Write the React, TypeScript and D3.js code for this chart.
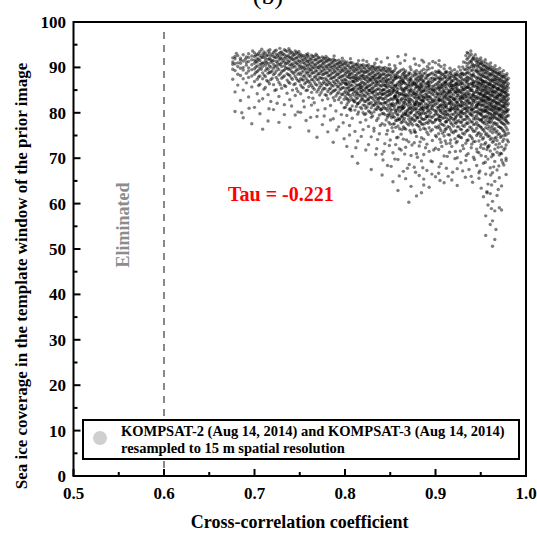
import React from 'react';
import * as d3 from 'd3';

const W = 537;
const H = 535;

const xMajorTicks = [0.5, 0.6, 0.7, 0.8, 0.9, 1.0];
const xMinorTicks = [0.55, 0.65, 0.75, 0.85, 0.95];
const yMajorTicks = [0, 10, 20, 30, 40, 50, 60, 70, 80, 90, 100];
const yMinorTicks = [5, 15, 25, 35, 45, 55, 65, 75, 85, 95];

const eliminatedThreshold = 0.6;
const tauText = 'Tau = -0.221';
const legendLine1 = 'KOMPSAT-2 (Aug 14, 2014) and KOMPSAT-3 (Aug 14, 2014)';
const legendLine2 = 'resampled to 15 m spatial resolution';
const xTitle = 'Cross-correlation coefficient';
const yTitle = 'Sea ice coverage in the template window of the prior image';

// scatter columns: [cross-correlation, [sea ice coverage values]]
const colsA: [number, number[]][] = [
  [0.676, [92.1, 91.2, 90.7, 89.6, 87.4]],
  [0.6785, [92.4, 91.9, 90.8, 89.3, 84.6, 80.3]],
  [0.6815, [92.6, 91.0, 90.2, 88.5, 86.1]],
  [0.6845, [92.0, 91.6, 90.9, 89.8, 88.2, 82.7]],
  [0.6875, [92.8, 91.4, 90.0, 89.4, 87.5, 85.0, 78.9]],
  [0.691, [92.3, 91.1, 90.5, 88.7, 86.6]],
  [0.6935, [93.0, 92.2, 91.3, 89.9, 89.2, 87.8, 83.5]],
  [0.697, [92.5, 91.7, 90.6, 89.5, 88.1, 85.7, 77.6]],
];

const colsB: [number, number[]][] = [
  [0.7, [93.2, 92.4, 91.6, 90.9, 89.7, 88.5, 86.9, 81.2]],
  [0.703, [92.8, 91.9, 91.2, 90.3, 89.1, 87.4, 84.2]],
  [0.706, [93.5, 92.6, 91.5, 90.6, 89.9, 88.1, 86.3, 79.8]],
  [0.709, [92.9, 92.2, 91.0, 90.2, 88.8, 87.5, 83.1, 76.4]],
  [0.712, [93.1, 92.0, 91.4, 90.5, 89.3, 88.0, 85.6]],
  [0.715, [93.6, 92.7, 91.8, 90.8, 89.6, 88.7, 86.9, 84.0, 78.2]],
  [0.718, [92.5, 91.7, 91.1, 90.1, 89.0, 87.3, 82.5]],
  [0.721, [93.3, 92.4, 91.5, 90.7, 89.8, 88.4, 86.2, 80.7]],
  [0.724, [93.8, 92.9, 92.1, 91.3, 90.4, 89.2, 87.8, 85.1]],
  [0.727, [93.0, 92.3, 91.6, 90.6, 89.5, 88.3, 86.7, 83.6, 77.9]],
  [0.73, [93.4, 92.7, 91.9, 91.0, 90.2, 89.0, 87.6, 85.4]],
  [0.733, [93.9, 92.8, 92.0, 91.2, 90.3, 89.4, 88.1, 86.0, 81.8]],
  [0.736, [93.5, 92.6, 91.7, 90.9, 89.9, 88.6, 87.2, 84.3]],
  [0.739, [93.7, 93.0, 92.2, 91.4, 90.5, 89.7, 88.2, 86.5, 82.9, 76.8]],
  [0.742, [93.2, 92.5, 91.8, 90.8, 90.0, 88.9, 87.4, 85.0]],
  [0.745, [93.6, 92.9, 92.0, 91.1, 90.1, 89.1, 88.0, 86.4, 83.8, 79.5]],
  [0.748, [93.1, 92.3, 91.5, 90.7, 89.6, 88.5, 87.1, 84.7]],
];

const colsC: [number, number[]][] = [
  [0.751, [92.9, 92.2, 91.1, 90.4, 89.7, 88.4, 87.5, 86.1, 84.2, 80.1]],
  [0.754, [92.6, 91.7, 91.0, 90.1, 89.3, 88.0, 87.2, 85.5, 82.6]],
  [0.757, [92.8, 92.0, 91.5, 90.5, 89.6, 88.9, 87.6, 86.7, 84.9, 78.3]],
  [0.76, [92.3, 91.4, 90.8, 89.8, 89.1, 88.2, 86.9, 85.8, 83.4, 76.0]],
  [0.763, [92.7, 91.9, 91.2, 90.2, 89.4, 88.6, 87.3, 86.0, 84.5, 81.7]],
  [0.766, [92.4, 91.6, 90.6, 89.9, 88.8, 87.9, 86.8, 85.2, 82.2]],
  [0.769, [92.6, 91.8, 90.9, 90.0, 89.2, 88.3, 87.4, 86.1, 84.6, 79.2, 74.6]],
  [0.772, [92.1, 91.3, 90.4, 89.7, 88.6, 87.8, 86.6, 85.6, 83.9]],
  [0.775, [92.3, 91.5, 90.8, 90.1, 89.2, 88.4, 87.6, 86.4, 85.0, 82.8, 77.4]],
  [0.778, [91.9, 91.2, 90.3, 89.4, 88.7, 87.6, 86.5, 85.3, 84.0, 80.9]],
  [0.781, [92.0, 91.4, 90.5, 89.8, 88.9, 88.1, 87.0, 86.2, 84.7, 83.1, 75.8]],
  [0.784, [91.7, 90.8, 90.1, 89.3, 88.3, 87.5, 86.4, 85.4, 84.2, 81.6]],
  [0.787, [91.8, 91.1, 90.4, 89.6, 88.8, 87.8, 86.9, 85.9, 84.8, 83.3, 78.7, 73.5]],
  [0.79, [91.5, 90.7, 89.9, 89.0, 88.2, 87.2, 86.3, 85.1, 83.7, 80.4]],
  [0.793, [91.6, 90.9, 90.2, 89.4, 88.5, 87.7, 86.7, 85.7, 84.5, 82.9, 76.9]],
  [0.796, [91.3, 90.6, 89.7, 89.1, 88.0, 87.2, 86.4, 85.3, 84.1, 82.2, 79.6]],
  [0.799, [91.4, 90.8, 90.0, 89.2, 88.3, 87.4, 86.6, 85.5, 84.4, 83.0, 81.1, 74.3]],
];

const colsD: [number, number[]][] = [
  [0.802, [91.2, 90.4, 89.5, 88.9, 88.0, 87.0, 86.2, 85.4, 84.3, 83.1, 81.8, 79.4, 72.6]],
  [0.805, [90.9, 90.0, 89.3, 88.4, 87.7, 86.8, 85.8, 85.0, 83.9, 82.7, 80.8, 77.2]],
  [0.808, [91.0, 90.3, 89.6, 88.6, 87.9, 86.9, 86.0, 85.1, 84.0, 82.9, 81.5, 78.8, 70.4]],
  [0.811, [90.7, 89.8, 89.1, 88.2, 87.5, 86.6, 85.6, 84.8, 83.7, 82.4, 80.6, 75.9]],
  [0.814, [90.8, 90.2, 89.4, 88.7, 87.8, 87.1, 86.1, 85.2, 84.3, 83.3, 82.0, 79.7, 73.8, 68.9]],
  [0.817, [90.5, 89.7, 89.0, 88.1, 87.4, 86.4, 85.6, 84.7, 83.8, 82.6, 81.2, 77.9]],
  [0.82, [91.6, 90.6, 89.9, 89.1, 88.4, 87.6, 86.7, 85.9, 84.9, 84.0, 82.9, 81.7, 80.0, 76.3]],
  [0.823, [90.4, 89.5, 88.9, 88.0, 87.3, 86.3, 85.5, 84.6, 83.6, 82.5, 81.0, 78.4, 71.8]],
  [0.826, [90.6, 89.9, 89.2, 88.4, 87.6, 86.8, 85.9, 85.0, 84.1, 83.1, 82.0, 80.4, 77.0]],
  [0.829, [90.2, 89.5, 88.7, 87.9, 87.1, 86.2, 85.3, 84.4, 83.4, 82.3, 81.1, 79.0, 74.7, 67.5]],
  [0.832, [90.3, 89.7, 89.0, 88.2, 87.4, 86.6, 85.7, 84.8, 83.9, 82.8, 81.6, 80.2, 76.6]],
  [0.835, [91.8, 90.0, 89.3, 88.5, 87.7, 86.9, 86.0, 85.1, 84.2, 83.2, 82.1, 80.7, 78.3, 72.1]],
  [0.838, [90.1, 89.4, 88.6, 87.8, 87.0, 86.1, 85.2, 84.3, 83.3, 82.2, 81.0, 79.5, 75.4]],
  [0.841, [89.9, 89.2, 88.4, 87.6, 86.8, 85.9, 85.0, 84.1, 83.1, 82.0, 80.9, 79.8, 77.6, 70.9, 66.3]],
  [0.844, [90.0, 89.3, 88.5, 87.7, 86.9, 86.0, 85.1, 84.2, 83.2, 82.1, 81.0, 79.6, 77.3, 73.2]],
  [0.847, [92.1, 89.8, 89.0, 88.2, 87.4, 86.5, 85.6, 84.7, 83.8, 82.8, 81.7, 80.5, 79.0, 76.1, 68.4]],
  [0.85, [89.7, 89.1, 88.3, 87.5, 86.7, 85.8, 84.9, 84.0, 83.0, 81.9, 80.8, 79.4, 77.5, 74.0]],
];

const colsE: [number, number[]][] = [
  [0.853, [89.1, 88.6, 87.2, 86.9, 85.4, 84.8, 84.5, 82.9, 82.1, 81.6, 79.8, 79.2, 77.5, 75.9, 71.2, 64.8]],
  [0.856, [89.8, 88.3, 87.6, 86.1, 85.9, 84.0, 83.7, 83.2, 81.9, 80.4, 80.1, 78.3, 76.8, 73.0]],
  [0.8585, [92.4, 88.9, 88.0, 86.6, 85.2, 84.4, 83.5, 82.6, 82.4, 80.9, 79.5, 78.7, 77.1, 74.6, 69.7, 62.9]],
  [0.862, [89.4, 87.9, 87.4, 86.3, 85.6, 84.2, 83.0, 82.7, 81.3, 80.6, 79.0, 77.8, 75.3, 71.8]],
  [0.8645, [89.6, 88.7, 87.0, 86.8, 85.1, 84.6, 83.9, 82.3, 81.8, 81.1, 79.9, 78.4, 76.9, 74.2, 67.1]],
  [0.867, [92.8, 89.2, 88.2, 87.7, 86.4, 85.5, 84.1, 83.6, 82.8, 82.0, 80.3, 79.7, 78.0, 76.4, 72.4, 65.5]],
  [0.8705, [88.8, 88.4, 86.9, 86.2, 85.8, 84.7, 83.3, 82.5, 81.4, 80.8, 79.3, 78.6, 77.3, 73.6, 60.3]],
  [0.873, [89.5, 87.8, 87.3, 86.0, 85.3, 84.9, 83.8, 82.9, 81.7, 81.0, 80.0, 78.9, 77.7, 75.6, 70.6, 63.8]],
  [0.8765, [91.9, 89.0, 88.1, 86.7, 86.4, 85.0, 84.3, 83.4, 82.2, 81.5, 80.7, 79.4, 78.2, 76.2, 73.4, 68.0]],
  [0.879, [89.3, 88.5, 87.5, 86.6, 85.7, 84.4, 84.0, 82.7, 82.4, 80.9, 80.2, 79.1, 77.4, 74.8, 71.0, 61.7]],
  [0.882, [90.4, 88.9, 87.9, 87.1, 85.9, 85.2, 83.9, 83.3, 82.0, 81.6, 80.5, 79.6, 78.1, 76.9, 72.7, 66.2]],
  [0.8845, [89.2, 88.0, 87.4, 86.3, 85.5, 84.6, 83.6, 82.8, 81.9, 81.2, 79.8, 78.8, 77.6, 74.5, 69.4, 62.4]],
  [0.887, [91.2, 89.6, 88.6, 87.2, 86.8, 85.1, 84.8, 83.2, 82.6, 81.4, 80.6, 79.9, 78.5, 76.6, 74.2, 70.8, 64.1]],
  [0.8905, [89.4, 88.2, 87.6, 86.5, 85.6, 84.2, 83.7, 83.0, 81.8, 81.1, 80.1, 79.2, 77.9, 75.7, 73.1, 67.3]],
  [0.893, [90.8, 89.7, 88.4, 87.0, 86.1, 85.4, 84.5, 83.5, 82.3, 81.7, 80.4, 79.5, 78.3, 76.7, 71.5, 63.6]],
  [0.8965, [89.9, 88.8, 87.7, 86.9, 85.8, 85.0, 84.1, 82.9, 82.5, 81.3, 80.8, 79.0, 77.8, 76.3, 73.9, 69.2]],
  [0.9, [91.0, 89.1, 88.3, 87.4, 86.2, 85.3, 84.7, 83.4, 82.7, 81.9, 80.3, 79.7, 78.4, 76.9, 75.0, 72.2, 65.9]],
];

const colsF: [number, number[]][] = [
  [0.9035, [90.6, 89.3, 88.9, 87.6, 86.8, 85.7, 85.2, 84.1, 83.0, 82.6, 81.3, 80.9, 79.4, 78.8, 77.1, 75.4, 71.9, 66.7]],
  [0.906, [90.2, 88.7, 88.1, 87.4, 86.2, 85.6, 84.3, 83.9, 82.8, 81.8, 81.4, 80.1, 79.2, 77.6, 76.1, 73.5, 68.8]],
  [0.9095, [89.7, 88.4, 87.8, 86.7, 86.1, 85.0, 84.6, 83.3, 82.5, 81.9, 80.5, 79.7, 78.9, 77.2, 74.9, 70.5, 64.6]],
  [0.912, [89.1, 88.9, 87.7, 87.0, 86.4, 85.4, 84.0, 83.5, 83.1, 81.6, 81.2, 80.3, 78.9, 78.1, 76.5, 73.2, 67.8]],
  [0.9155, [88.9, 87.9, 87.5, 86.5, 85.9, 84.9, 84.6, 83.7, 82.7, 82.1, 80.7, 80.4, 79.3, 78.4, 76.8, 75.1, 71.3]],
  [0.918, [89.2, 88.3, 87.1, 86.9, 86.0, 85.2, 84.2, 83.4, 82.3, 81.7, 81.0, 79.7, 78.8, 77.5, 75.8, 72.6, 65.2]],
  [0.9215, [88.6, 88.1, 87.6, 86.3, 85.8, 84.7, 84.4, 83.0, 82.8, 81.5, 80.6, 80.0, 78.6, 77.8, 76.0, 74.3, 69.9]],
  [0.924, [89.0, 88.4, 87.3, 86.6, 86.0, 85.3, 84.8, 83.8, 82.4, 82.2, 81.0, 80.8, 79.5, 78.1, 76.9, 73.7, 70.1, 64.0]],
  [0.9275, [89.4, 88.5, 87.9, 86.9, 86.3, 85.0, 84.5, 83.4, 83.1, 81.8, 81.4, 80.2, 79.1, 77.9, 76.4, 74.6, 71.6]],
  [0.93, [90.1, 88.7, 88.3, 87.2, 86.5, 85.5, 85.0, 83.9, 83.3, 82.2, 81.6, 80.7, 79.8, 78.4, 77.2, 75.5, 72.8, 67.2]],
  [0.9335, [92.6, 91.0, 89.5, 88.6, 87.5, 86.9, 85.7, 85.4, 84.1, 83.6, 82.5, 81.8, 80.8, 80.0, 78.6, 77.5, 75.8, 73.3, 69.5]],
  [0.936, [93.1, 92.1, 90.8, 89.7, 89.0, 87.8, 87.2, 86.2, 85.6, 84.3, 83.9, 82.8, 82.1, 81.1, 80.3, 78.9, 77.7, 76.2, 74.0, 71.0]],
  [0.9395, [92.9, 91.5, 91.2, 90.2, 89.3, 88.2, 87.6, 86.5, 85.3, 84.9, 83.5, 83.2, 82.1, 81.4, 80.5, 79.5, 78.0, 76.7, 74.7, 72.3, 66.0]],
  [0.942, [92.3, 91.9, 90.5, 90.0, 88.6, 88.1, 86.9, 86.5, 85.8, 84.4, 84.0, 82.7, 82.2, 80.9, 80.1, 78.7, 77.4, 75.9, 73.6, 70.2]],
  [0.9455, [92.0, 91.2, 90.6, 89.5, 89.1, 87.6, 87.0, 86.0, 85.1, 84.7, 83.6, 83.1, 81.8, 81.6, 80.3, 79.4, 77.9, 76.6, 75.0, 72.0, 68.4]],
  [0.948, [91.7, 90.8, 90.3, 89.2, 88.5, 87.5, 86.8, 85.8, 85.1, 84.2, 83.4, 82.4, 81.9, 80.6, 79.9, 78.5, 77.2, 75.6, 73.8, 71.2, 65.6]],
  [0.9505, [91.5, 90.9, 89.7, 89.2, 88.0, 87.3, 86.4, 85.7, 84.6, 84.2, 83.1, 82.5, 81.5, 80.6, 79.5, 78.5, 76.8, 75.3, 73.0, 70.6, 63.4]],
];

const colsG: [number, number[]][] = [
  [0.953, [91.2, 90.3, 89.6, 88.7, 88.0, 86.9, 86.4, 85.4, 85.0, 83.9, 83.5, 82.5, 81.8, 80.8, 80.2, 78.9, 77.9, 76.2, 74.5, 72.1, 68.9, 61.5]],
  [0.9555, [91.0, 90.2, 89.5, 88.7, 87.7, 86.9, 85.9, 85.3, 84.3, 83.7, 82.8, 82.1, 81.2, 80.6, 79.3, 78.3, 76.7, 75.2, 73.4, 70.4, 66.5, 57.3, 53.0]],
  [0.958, [90.7, 89.8, 89.3, 88.2, 87.5, 86.5, 85.9, 84.8, 84.3, 83.4, 82.8, 81.7, 81.2, 80.1, 79.3, 77.9, 76.5, 74.8, 72.6, 69.8, 64.3, 59.7]],
  [0.9605, [90.3, 89.6, 88.6, 88.1, 87.0, 86.5, 85.5, 84.7, 83.8, 83.2, 82.2, 81.6, 80.7, 79.9, 78.8, 77.8, 76.0, 74.1, 71.6, 67.9, 62.2, 55.4]],
  [0.963, [90.0, 89.2, 88.6, 87.5, 87.0, 86.0, 85.4, 84.4, 83.8, 82.7, 82.2, 81.1, 80.5, 79.4, 78.7, 77.1, 75.6, 73.5, 70.9, 66.8, 60.5, 56.2, 50.6]],
  [0.9655, [89.7, 89.0, 88.1, 87.4, 86.4, 85.8, 84.7, 84.2, 83.2, 82.6, 81.6, 81.0, 79.9, 79.2, 77.8, 76.5, 74.4, 72.0, 69.3, 64.9, 58.4, 52.1]],
  [0.968, [89.5, 88.7, 88.0, 87.1, 86.3, 85.3, 84.8, 83.7, 83.1, 82.1, 81.5, 80.5, 79.8, 78.7, 77.6, 76.0, 73.9, 71.3, 67.4, 61.8]],
  [0.9705, [89.0, 88.5, 87.5, 86.9, 85.9, 85.2, 84.2, 83.7, 82.5, 82.0, 81.0, 80.4, 79.2, 78.4, 76.9, 75.4, 73.2, 70.7, 65.7, 59.1]],
  [0.973, [88.9, 88.0, 87.4, 86.5, 85.8, 84.8, 84.2, 83.1, 82.5, 81.5, 80.9, 79.8, 79.1, 77.8, 76.6, 74.9, 72.5, 69.6, 63.9, 58.6]],
  [0.9755, [88.4, 87.9, 86.9, 86.4, 85.3, 84.7, 83.7, 83.1, 82.0, 81.4, 80.4, 79.7, 78.5, 77.5, 76.0, 74.2, 71.8, 68.5]],
  [0.978, [88.2, 87.3, 86.8, 85.8, 85.2, 84.2, 83.6, 82.6, 82.0, 80.9, 80.3, 79.1, 78.2, 76.8, 75.1, 72.9, 70.0, 66.4]],
  [0.9805, [87.6, 86.4, 85.5, 84.0, 83.1, 82.0, 80.7, 79.4, 77.7, 75.5, 73.6]],
];

// additional points read from the denser parts of the cloud
const denseBC: [number, number[]][] = [
  [0.7015, [92.7, 91.3, 90.1, 88.9]],
  [0.7045, [93.1, 91.8, 89.4, 87.9, 86.0]],
  [0.7075, [92.2, 90.8, 89.6]],
  [0.7105, [93.4, 92.5, 90.9, 88.3, 85.2]],
  [0.7135, [92.6, 91.1, 89.8, 87.1]],
  [0.7165, [93.2, 91.9, 90.3, 88.9, 86.4]],
  [0.7195, [92.9, 91.4, 89.2, 87.6]],
  [0.7225, [93.6, 92.2, 90.2, 88.7, 84.9]],
  [0.7255, [92.6, 91.0, 89.9, 87.3]],
  [0.7285, [93.3, 92.0, 90.7, 88.6, 86.2]],
  [0.7315, [93.0, 91.5, 89.3, 87.9]],
  [0.7345, [93.7, 92.3, 90.8, 89.8, 85.8]],
  [0.7375, [92.4, 91.2, 89.6, 88.4, 86.8]],
  [0.7405, [93.4, 92.0, 90.6, 89.2, 87.7]],
  [0.7435, [92.8, 91.6, 90.4, 88.6, 86.2]],
  [0.7465, [93.3, 92.1, 90.9, 89.4, 87.5, 85.3]],
  [0.7495, [92.7, 91.4, 90.2, 88.8, 86.9]],
  [0.7525, [92.5, 91.6, 90.0, 88.9, 87.3, 85.7]],
  [0.7555, [92.2, 90.9, 89.8, 88.2, 86.4]],
  [0.7585, [92.6, 91.3, 90.3, 88.7, 87.1, 85.0]],
  [0.7615, [91.8, 90.6, 89.5, 88.0, 86.5]],
  [0.7645, [92.4, 91.0, 89.9, 88.9, 87.3, 85.6, 83.2]],
  [0.7675, [91.7, 90.5, 89.3, 87.9, 86.3]],
  [0.7705, [92.2, 91.1, 90.0, 88.6, 87.2, 85.1]],
  [0.7735, [91.5, 90.3, 89.1, 87.6, 86.0, 84.4]],
  [0.7765, [92.0, 90.9, 89.7, 88.5, 86.9, 85.4]],
  [0.7795, [91.4, 90.1, 88.8, 87.3, 86.1, 83.8]],
  [0.7825, [91.7, 90.6, 89.4, 88.2, 86.7, 85.2]],
  [0.7855, [91.2, 90.0, 88.7, 87.6, 86.0, 84.5]],
  [0.7885, [91.6, 90.3, 89.2, 87.9, 86.6, 84.9, 82.7]],
  [0.7915, [90.8, 89.7, 88.5, 87.1, 85.8, 84.2]],
  [0.7945, [91.1, 90.2, 88.9, 87.8, 86.2, 85.1, 83.4]],
  [0.7975, [90.6, 89.4, 88.1, 86.9, 85.6, 84.0]],
];

const denseD: [number, number[]][] = [
  [0.8005, [90.9, 89.8, 88.6, 87.3, 86.5, 84.8, 83.6, 81.2]],
  [0.8035, [90.4, 89.0, 87.9, 86.4, 85.5, 84.1, 82.3]],
  [0.8065, [91.1, 89.9, 88.8, 87.6, 86.2, 85.0, 83.4, 80.5]],
  [0.8095, [90.2, 89.2, 87.8, 86.9, 85.3, 84.4, 82.8]],
  [0.8125, [90.6, 89.6, 88.3, 87.1, 86.0, 84.6, 83.1, 81.4]],
  [0.8155, [90.0, 88.8, 87.6, 86.2, 85.4, 83.9, 82.2]],
  [0.8185, [90.4, 89.3, 88.1, 86.8, 85.6, 84.5, 83.0, 80.9]],
  [0.8215, [89.9, 88.9, 87.5, 86.4, 85.1, 83.8, 82.5, 79.6]],
  [0.8245, [90.3, 89.1, 87.9, 86.9, 85.7, 84.3, 82.9, 81.3]],
  [0.8275, [89.7, 88.5, 87.3, 86.0, 84.9, 83.5, 82.0, 80.2]],
  [0.8305, [90.1, 89.0, 87.8, 86.6, 85.4, 84.4, 83.2, 81.7, 79.3]],
  [0.8335, [89.6, 88.3, 87.2, 86.1, 84.8, 83.6, 82.4, 80.8]],
  [0.8365, [89.9, 88.8, 87.6, 86.5, 85.3, 84.0, 82.7, 81.5, 78.8]],
  [0.8395, [89.4, 88.2, 87.0, 85.9, 84.6, 83.4, 82.0, 80.6]],
  [0.8425, [89.7, 88.6, 87.4, 86.3, 85.1, 84.2, 83.0, 81.4, 79.9]],
  [0.8455, [89.2, 88.0, 86.8, 85.7, 84.5, 83.6, 82.3, 80.9, 78.4]],
  [0.8485, [89.5, 88.4, 87.2, 86.1, 84.9, 83.9, 82.6, 81.2, 79.7, 77.9]],
  [0.8515, [89.0, 87.9, 86.6, 85.5, 84.3, 83.1, 81.9, 80.6, 78.9]],
];

const denseE: [number, number[]][] = [
  [0.8545, [89.3, 88.0, 87.4, 85.8, 85.1, 83.6, 83.3, 81.4, 80.8, 79.0, 77.6]],
  [0.8575, [88.6, 87.7, 86.2, 85.5, 84.5, 82.9, 82.2, 80.6, 79.7, 78.3]],
  [0.8603, [89.1, 87.8, 86.8, 86.0, 84.2, 83.9, 82.1, 81.2, 80.3, 78.5, 76.5]],
  [0.8633, [88.4, 87.1, 86.5, 85.0, 84.1, 83.2, 81.5, 80.9, 79.2, 78.0]],
  [0.8658, [88.9, 88.1, 86.6, 85.3, 84.8, 83.1, 82.4, 81.3, 79.6, 78.8, 76.6]],
  [0.8688, [88.1, 87.4, 86.1, 85.2, 83.7, 82.9, 81.8, 80.2, 79.4, 77.6]],
  [0.8718, [88.7, 87.5, 86.6, 85.0, 84.4, 83.0, 82.1, 81.0, 79.9, 78.1, 76.1]],
  [0.8748, [88.3, 86.8, 86.1, 84.6, 83.9, 82.6, 81.2, 80.5, 78.7, 77.3]],
  [0.8778, [88.6, 87.3, 86.2, 85.5, 84.0, 83.3, 81.8, 80.9, 79.6, 78.4, 75.7]],
  [0.8805, [87.9, 87.0, 85.7, 84.8, 83.5, 82.2, 81.5, 80.0, 78.9, 77.2]],
  [0.8833, [88.5, 87.5, 86.4, 85.0, 84.3, 82.9, 82.1, 80.8, 79.3, 78.0, 76.3]],
  [0.8858, [88.1, 86.9, 85.9, 84.7, 83.8, 82.5, 81.0, 80.4, 78.6, 77.4]],
  [0.8888, [88.8, 87.7, 86.3, 85.6, 84.1, 83.4, 82.0, 81.1, 79.8, 78.7, 76.4]],
  [0.8918, [88.2, 86.8, 86.0, 84.9, 83.6, 82.8, 81.5, 80.5, 79.1, 77.7]],
  [0.8948, [88.6, 87.5, 86.6, 85.2, 84.4, 83.1, 82.2, 80.9, 80.0, 78.2, 76.0]],
  [0.8983, [88.4, 87.2, 85.9, 85.0, 83.9, 82.8, 81.6, 80.6, 79.4, 77.9]],
  [0.9018, [88.9, 87.9, 86.5, 85.5, 84.3, 83.5, 82.1, 81.2, 79.8, 78.6, 76.7]],
];

const denseF: [number, number[]][] = [
  [0.9048, [89.0, 87.6, 86.9, 85.4, 84.8, 83.4, 82.7, 81.6, 80.5, 79.2, 78.3, 76.6, 74.2]],
  [0.9078, [88.5, 87.4, 86.3, 85.5, 84.2, 83.0, 82.4, 81.0, 79.9, 78.8, 77.4, 75.5]],
  [0.9108, [88.9, 88.0, 86.6, 85.8, 84.5, 83.8, 82.2, 81.5, 80.2, 79.5, 78.0, 76.4, 73.8]],
  [0.9138, [88.3, 87.3, 86.1, 85.0, 84.3, 82.9, 82.0, 80.8, 79.7, 78.5, 77.0, 75.2]],
  [0.9168, [88.6, 87.8, 86.5, 85.6, 84.7, 83.5, 82.6, 81.3, 80.5, 79.0, 77.8, 76.3, 74.0]],
  [0.9198, [88.0, 87.1, 86.0, 85.1, 83.9, 83.1, 81.9, 80.9, 79.6, 78.4, 77.1, 75.6]],
  [0.9228, [88.4, 87.5, 86.6, 85.4, 84.6, 83.4, 82.3, 81.6, 80.2, 79.2, 77.7, 76.0, 73.4]],
  [0.9258, [88.1, 87.0, 86.2, 85.0, 83.8, 83.0, 81.8, 80.6, 79.8, 78.3, 76.9, 75.0]],
  [0.9288, [88.7, 87.6, 86.5, 85.7, 84.4, 83.6, 82.4, 81.5, 80.3, 79.1, 77.9, 76.3, 74.5]],
  [0.9318, [89.6, 88.4, 87.3, 86.1, 85.2, 84.3, 83.1, 82.0, 81.0, 79.8, 78.5, 77.0, 75.3]],
  [0.9348, [91.8, 90.2, 88.8, 87.9, 86.6, 85.6, 84.7, 83.4, 82.7, 81.4, 80.5, 79.2, 77.8, 76.1, 73.9]],
  [0.9378, [92.5, 91.2, 89.9, 88.6, 87.5, 86.3, 85.4, 84.1, 83.3, 82.1, 81.0, 79.8, 78.4, 76.9, 75.0]],
  [0.9408, [91.9, 90.7, 89.4, 88.3, 87.2, 86.0, 84.9, 83.9, 82.8, 81.7, 80.8, 79.4, 78.0, 76.3, 74.3]],
  [0.9438, [91.6, 90.3, 89.3, 88.0, 86.8, 85.9, 84.5, 83.6, 82.5, 81.3, 80.2, 79.1, 77.5, 76.0, 73.7]],
  [0.9468, [91.3, 90.1, 88.9, 87.8, 86.5, 85.5, 84.4, 83.2, 82.2, 81.1, 80.0, 78.8, 77.3, 75.4]],
  [0.9498, [90.9, 89.9, 88.5, 87.4, 86.3, 85.2, 84.0, 83.0, 81.9, 80.8, 79.7, 78.3, 76.9, 74.8, 72.4]],
  [0.9518, [90.6, 89.4, 88.3, 87.1, 86.0, 84.9, 83.7, 82.7, 81.7, 80.4, 79.3, 78.0, 76.4]],
];

const denseG: [number, number[]][] = [
  [0.9543, [90.4, 89.2, 88.0, 86.8, 85.8, 84.7, 83.5, 82.6, 81.4, 80.4, 79.1, 77.6, 75.8, 73.1]],
  [0.9568, [90.0, 88.9, 87.8, 86.6, 85.6, 84.4, 83.4, 82.3, 81.3, 80.1, 78.9, 77.4, 75.4, 71.9, 62.6]],
  [0.9593, [89.9, 88.6, 87.4, 86.3, 85.3, 84.2, 83.0, 82.1, 80.9, 79.8, 78.6, 77.0, 74.9, 72.8]],
  [0.9618, [89.5, 88.4, 87.2, 86.1, 85.0, 83.9, 82.8, 81.8, 80.7, 79.6, 78.2, 76.6, 74.4, 70.3, 58.9]],
  [0.9643, [89.2, 88.1, 86.9, 85.8, 84.8, 83.6, 82.6, 81.4, 80.3, 79.0, 77.7, 76.2, 73.8, 68.1]],
  [0.9668, [88.9, 87.8, 86.6, 85.5, 84.5, 83.4, 82.3, 81.2, 80.1, 78.8, 77.4, 75.7, 73.0, 54.3]],
  [0.9693, [88.6, 87.5, 86.4, 85.3, 84.1, 83.1, 82.0, 80.9, 79.7, 78.5, 77.0, 75.2, 72.4, 63.1]],
  [0.9718, [88.3, 87.1, 86.1, 84.9, 83.9, 82.8, 81.7, 80.7, 79.5, 78.1, 76.7, 74.6, 71.1]],
  [0.9743, [88.0, 86.9, 85.7, 84.6, 83.6, 82.5, 81.4, 80.3, 79.2, 77.7, 76.2, 73.7, 69.0]],
  [0.9768, [87.7, 86.6, 85.5, 84.4, 83.3, 82.2, 81.1, 80.0, 78.8, 77.3, 75.6, 72.2]],
  [0.9793, [87.2, 86.0, 84.8, 83.8, 82.7, 81.6, 80.5, 79.3, 77.9, 76.3, 74.0]],
];

// individually placed points: dark core, lower fringe and ragged top edge
const corePoints: [number, number][] = [
  [0.857, 84.7], [0.859, 81.3], [0.861, 86.9], [0.863, 79.4], [0.866, 83.8], [0.868, 85.6], [0.869, 80.6], [0.871, 82.4],
  [0.872, 87.2], [0.874, 78.5], [0.876, 84.3], [0.877, 81.9], [0.879, 86.1], [0.881, 83.2], [0.883, 79.9], [0.884, 85.8],
  [0.886, 82.7], [0.888, 77.6], [0.889, 84.9], [0.891, 81.1], [0.892, 86.6], [0.894, 83.5], [0.895, 79.1], [0.897, 85.2],
  [0.898, 82.3], [0.899, 87.5], [0.901, 80.4], [0.902, 84.1], [0.904, 82.9], [0.905, 78.3], [0.907, 85.9], [0.908, 81.7],
  [0.909, 83.6], [0.911, 86.8], [0.913, 79.6], [0.914, 84.4], [0.916, 82.1], [0.917, 80.8], [0.919, 85.4], [0.92, 83.0],
  [0.922, 78.9], [0.923, 86.3], [0.925, 81.5], [0.926, 84.7], [0.928, 82.6], [0.929, 80.1], [0.931, 85.1], [0.932, 83.8],
  [0.934, 79.3], [0.935, 87.0], [0.937, 82.4], [0.938, 84.9], [0.94, 80.7], [0.941, 86.4], [0.943, 83.1], [0.944, 78.6],
  [0.946, 85.6], [0.947, 81.8], [0.949, 84.2], [0.95, 79.9], [0.952, 86.9], [0.953, 82.9], [0.955, 80.4], [0.956, 85.0],
  [0.957, 83.3], [0.959, 78.1], [0.96, 86.2], [0.962, 81.4], [0.963, 84.6], [0.965, 79.7], [0.966, 87.3], [0.967, 82.2],
  [0.969, 85.3], [0.97, 80.9], [0.972, 83.9], [0.973, 78.8], [0.975, 86.0], [0.976, 81.6], [0.977, 84.5], [0.979, 80.2],
  [0.858, 82.8], [0.86, 78.6], [0.862, 85.3], [0.864, 81.0], [0.865, 87.6], [0.867, 79.8], [0.87, 84.0], [0.873, 80.2],
  [0.875, 86.4], [0.878, 82.0], [0.88, 78.9], [0.882, 85.5], [0.885, 80.9], [0.887, 83.4], [0.89, 79.2], [0.893, 85.9],
  [0.896, 81.6], [0.898, 84.6], [0.9, 78.4], [0.903, 86.1], [0.906, 80.5], [0.908, 84.8], [0.91, 81.2], [0.912, 78.0],
  [0.915, 83.3], [0.918, 86.0], [0.921, 81.1], [0.924, 84.3], [0.927, 79.5], [0.93, 83.2], [0.933, 81.0], [0.936, 85.7],
  [0.939, 79.8], [0.942, 83.7], [0.945, 81.2], [0.948, 86.5], [0.951, 78.5], [0.954, 84.0], [0.957, 80.6], [0.959, 83.0],
  [0.961, 79.0], [0.964, 85.7], [0.966, 80.8], [0.968, 83.6], [0.971, 79.4], [0.974, 85.1], [0.976, 82.9], [0.978, 78.3],
];

const midBandPoints: [number, number][] = [
  [0.801, 86.3], [0.803, 83.0], [0.805, 88.4], [0.806, 80.9], [0.808, 85.2], [0.81, 82.5], [0.812, 87.6], [0.813, 84.1],
  [0.815, 80.2], [0.817, 86.0], [0.819, 83.4], [0.82, 88.1], [0.822, 81.6], [0.824, 85.5], [0.826, 82.8], [0.828, 87.3],
  [0.829, 79.9], [0.831, 84.6], [0.833, 81.9], [0.835, 86.7], [0.837, 83.1], [0.838, 88.0], [0.84, 80.7], [0.842, 85.0],
  [0.844, 82.3], [0.846, 87.1], [0.847, 79.4], [0.849, 84.4], [0.851, 81.5], [0.853, 86.2], [0.855, 83.6], [0.856, 87.9],
  [0.804, 84.7], [0.809, 87.0], [0.814, 82.0], [0.818, 85.1], [0.823, 79.8], [0.827, 84.9], [0.832, 87.8], [0.836, 81.2],
  [0.841, 84.0], [0.845, 86.0], [0.85, 80.1], [0.854, 84.9],
];

const fringePoints: [number, number][] = [
  [0.832, 76.0], [0.836, 74.1], [0.839, 77.2], [0.843, 71.5], [0.846, 75.3], [0.849, 72.8], [0.852, 76.7], [0.855, 69.8],
  [0.857, 74.5], [0.86, 72.1], [0.863, 76.3], [0.866, 70.9], [0.868, 74.0], [0.871, 68.6], [0.874, 72.9], [0.877, 75.8],
  [0.88, 70.2], [0.883, 73.6], [0.886, 67.9], [0.889, 72.3], [0.892, 75.2], [0.895, 69.4], [0.898, 71.8], [0.901, 74.7],
  [0.904, 68.1], [0.907, 72.6], [0.91, 75.9], [0.913, 70.4], [0.916, 73.3], [0.919, 66.9], [0.922, 71.5], [0.925, 74.8],
  [0.928, 69.0], [0.931, 72.1], [0.934, 70.6], [0.937, 67.5], [0.94, 73.1], [0.943, 69.7], [0.946, 71.4], [0.949, 67.2],
  [0.952, 74.2], [0.955, 69.1], [0.958, 72.4], [0.961, 66.3], [0.964, 70.7], [0.967, 74.6], [0.97, 68.3], [0.973, 71.0],
  [0.976, 75.0], [0.978, 69.5], [0.962, 64.1], [0.957, 62.4], [0.948, 66.8], [0.941, 64.7], [0.933, 65.8], [0.924, 67.7],
  [0.914, 66.0], [0.905, 65.1], [0.896, 66.5], [0.887, 65.4], [0.878, 66.9], [0.869, 67.8], [0.86, 66.1], [0.851, 68.2],
  [0.842, 69.6], [0.834, 70.8], [0.826, 73.0], [0.818, 74.8], [0.812, 72.3], [0.805, 75.1], [0.798, 77.8], [0.791, 76.2],
  [0.784, 78.4], [0.777, 79.3], [0.77, 80.6], [0.762, 79.0], [0.755, 81.3], [0.748, 80.2], [0.741, 81.5], [0.733, 79.6],
  [0.725, 82.1], [0.716, 80.9], [0.705, 82.6], [0.694, 81.0], [0.686, 80.0],
];

const topEdgePoints: [number, number][] = [
  [0.68, 93.1], [0.69, 91.8], [0.698, 93.6], [0.708, 94.0], [0.717, 93.9], [0.728, 94.2], [0.738, 94.1], [0.749, 93.5],
  [0.759, 93.0], [0.768, 92.9], [0.779, 92.4], [0.788, 92.5], [0.797, 92.0], [0.806, 91.9], [0.815, 91.5], [0.824, 91.3],
  [0.833, 90.9], [0.84, 91.2], [0.849, 90.6], [0.855, 90.4], [0.861, 90.9], [0.866, 91.5], [0.872, 90.1], [0.878, 90.7],
  [0.885, 91.6], [0.891, 90.2], [0.897, 91.3], [0.904, 91.5], [0.91, 90.5], [0.916, 89.8], [0.921, 89.5], [0.926, 90.1],
  [0.931, 91.2], [0.935, 93.3], [0.939, 93.6], [0.944, 92.8], [0.95, 92.1], [0.955, 91.7], [0.961, 91.0], [0.966, 90.4],
  [0.971, 89.8], [0.975, 89.3], [0.979, 88.6],
];

const allColumns = [
  ...colsA, ...colsB, ...colsC, ...colsD, ...colsE, ...colsF, ...colsG,
  ...denseBC, ...denseD, ...denseE, ...denseF, ...denseG,
];
const allPairs = [...corePoints, ...midBandPoints, ...fringePoints, ...topEdgePoints];

const FONT = '"Liberation Serif", "Times New Roman", serif';

export default function App() {
  const margin = { left: 73.5, right: 526, top: 22, bottom: 476 };
  const x = d3.scaleLinear().domain([0.5, 1.0]).range([margin.left, margin.right]);
  const y = d3.scaleLinear().domain([0, 100]).range([margin.bottom, margin.top]);

  const points: { cx: number; cy: number }[] = [];
  allColumns.forEach(([cc, ys]) => {
    ys.forEach((v) => points.push({ cx: x(cc), cy: y(v) }));
  });
  allPairs.forEach(([cc, v]) => points.push({ cx: x(cc), cy: y(v) }));

  const fmtX = d3.format('.1f');

  return (
    <div style={{ position: 'absolute', left: 0, top: 0 }}>
      <svg width={W} height={H} viewBox={`0 0 ${W} ${H}`} style={{ display: 'block', background: '#fff' }}>
        <rect x={0} y={0} width={W} height={H} fill="#fff" />
        {/* panel title, partly outside the top edge as in the figure */}
        <text x={268} y={4} textAnchor="middle" fontFamily={FONT} fontSize={26} fill="#000">(b)</text>

        {/* scatter */}
        <g>
          {points.map((p, i) => (
            <circle key={i} cx={p.cx} cy={p.cy} r={1.7} fill="#000" fillOpacity={0.5} />
          ))}
        </g>

        {/* dashed threshold line */}
        <line x1={x(eliminatedThreshold)} x2={x(eliminatedThreshold)} y1={32} y2={margin.bottom}
          stroke="#888" strokeWidth={2} strokeDasharray="7,6" />
        <text transform={`translate(${x(eliminatedThreshold) - 35},225) rotate(-90)`} textAnchor="middle"
          fontFamily={FONT} fontWeight="bold" fontSize={18} fill="#8c8c8c">Eliminated</text>

        {/* Tau annotation */}
        <text x={228} y={201} fontFamily={FONT} fontWeight="bold" fontSize={20} fill="#ff0000">{tauText}</text>

        {/* frame */}
        <rect x={margin.left} y={margin.top} width={margin.right - margin.left} height={margin.bottom - margin.top}
          fill="none" stroke="#000" strokeWidth={2} />

        {/* x ticks */}
        {xMajorTicks.map((t) => (
          <g key={`xM${t}`}>
            <line x1={x(t)} x2={x(t)} y1={margin.bottom} y2={margin.bottom - 7} stroke="#000" strokeWidth={2} />
            <text x={x(t)} y={499} textAnchor="middle" fontFamily={FONT} fontWeight="bold" fontSize={17}>{fmtX(t)}</text>
          </g>
        ))}
        {xMinorTicks.map((t) => (
          <line key={`xm${t}`} x1={x(t)} x2={x(t)} y1={margin.bottom} y2={margin.bottom - 4} stroke="#000" strokeWidth={2} />
        ))}

        {/* y ticks */}
        {yMajorTicks.map((t) => (
          <g key={`yM${t}`}>
            <line x1={margin.left} x2={margin.left + 7} y1={y(t)} y2={y(t)} stroke="#000" strokeWidth={2} />
            <text x={66} y={y(t)} dy="0.35em" textAnchor="end" fontFamily={FONT} fontWeight="bold" fontSize={17}>{t}</text>
          </g>
        ))}
        {yMinorTicks.map((t) => (
          <line key={`ym${t}`} x1={margin.left} x2={margin.left + 4} y1={y(t)} y2={y(t)} stroke="#000" strokeWidth={2} />
        ))}

        {/* axis titles */}
        <text x={(margin.left + margin.right) / 2} y={528} textAnchor="middle" fontFamily={FONT} fontWeight="bold" fontSize={18}>{xTitle}</text>
        <text transform={`translate(27,${(margin.top + margin.bottom) / 2 + 27}) rotate(-90)`} textAnchor="middle"
          fontFamily={FONT} fontWeight="bold" fontSize={17}>{yTitle}</text>

        {/* legend */}
        <rect x={83} y={420} width={436} height={39} fill="#fff" stroke="#000" strokeWidth={2} />
        <circle cx={100} cy={438} r={7} fill="#cfcfcf" />
        <text x={121} y={436} fontFamily={FONT} fontWeight="bold" fontSize={14.5}>{legendLine1}</text>
        <text x={121} y={453} fontFamily={FONT} fontWeight="bold" fontSize={14.5}>{legendLine2}</text>
      </svg>
    </div>
  );
}
